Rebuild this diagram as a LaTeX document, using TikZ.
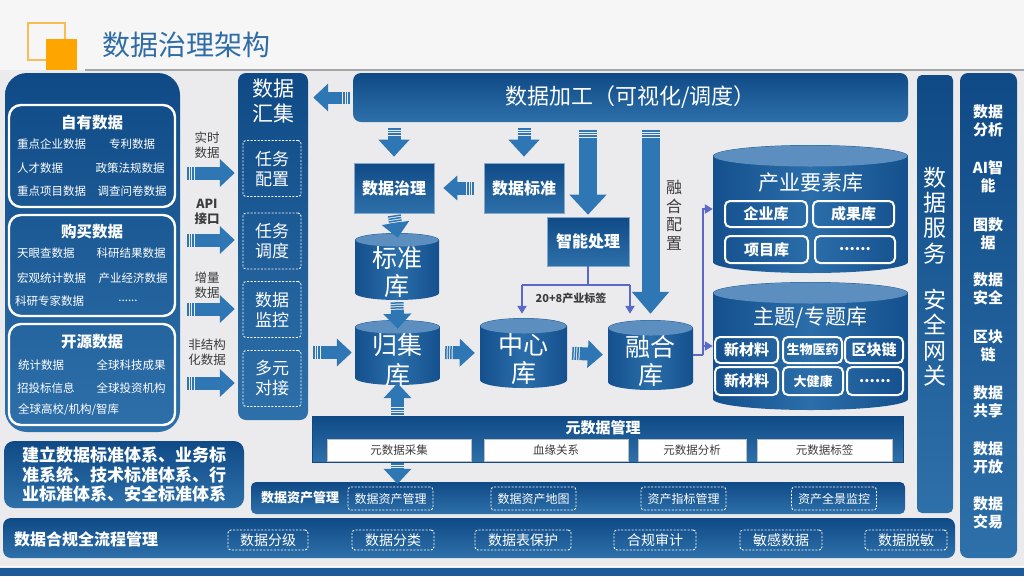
\documentclass[tikz,border=0pt]{standalone}
\usepackage{fontspec}
\setmainfont{Noto Sans CJK SC}
\usetikzlibrary{arrows.meta,calc}
\newcommand\myfs[2]{\fontsize{#1pt}{#2pt}\selectfont}
\definecolor{navy}{HTML}{0F4A86}
\definecolor{navyl}{HTML}{2E70AA}
\definecolor{arrb}{HTML}{2F77B4}
\definecolor{bgc}{HTML}{EBEBED}
\definecolor{purp}{HTML}{5A69C8}
\definecolor{txtg}{HTML}{3C3C3C}
\definecolor{ttl}{HTML}{2F6CA5}
\definecolor{orng}{HTML}{FFA500}
\definecolor{orngl}{HTML}{F8BE55}
\definecolor{cylA}{HTML}{14508D}
\definecolor{cylB}{HTML}{2B6EAA}
\definecolor{cylT}{HTML}{5C8FBF}
\definecolor{strip}{HTML}{1D5A99}
\begin{document}
\begin{tikzpicture}[x=1pt,y=-1pt,
  panel/.style={top color=navy, bottom color=navyl, draw=none, rounded corners=#1, inner sep=0pt},
  panel/.default=6,
  ibox/.style={draw=white, line width=2.4pt, rounded corners=12, inner sep=0pt},
  sect/.style={text=white, font=\myfs{15.5}{18}\bfseries, inner sep=0pt},
  itm/.style={text=white, font=\myfs{11.5}{13}, inner sep=0pt},
  dbox/.style={draw=white, dash pattern=on 2pt off 1.5pt, line width=0.9pt, rounded corners=3, text=white, inner sep=0pt, align=center},
  wbox/.style={draw=white, line width=2pt, rounded corners=5, text=white, inner sep=0pt, font=\myfs{15}{18}\bfseries},
  sqbox/.style={top color=navy, bottom color=navyl, inner sep=0pt, text=white, font=\myfs{16}{19}\bfseries, draw=navyl!60!white, line width=0.6pt},
  mbox/.style={fill=white, draw=black!25, inner sep=0pt, text=txtg, font=\myfs{11.5}{13}},
  glabel/.style={text=txtg, font=\myfs{12.5}{15}, align=center, inner sep=0pt},
  cyltxt/.style={text=white, font=\myfs{25}{28}, align=center, inner sep=0pt},
  wtxt/.style={text=white, align=center, inner sep=0pt},
  fat/.style n args={3}{draw=arrb, line width=#1, -{Triangle[width=#2,length=#3]}, dash pattern=on 1.5pt off 1pt on 1.5pt off 1pt on 1.5pt off 1pt on 600pt off 1pt},
  purpl/.style={draw=purp, line width=2.2pt},
  purpa/.style={draw=purp, line width=2.2pt, -{Triangle[width=9pt,length=8pt]}},
  dbcyl/.style={inner sep=0pt, path picture={
    \shade[left color=cylA, right color=cylA, middle color=cylB]
      let \p1=(path picture bounding box.south west), \p2=(path picture bounding box.north east) in
      (\x1,\y2-#1pt) -- (\x1,\y1+#1pt)
      arc[start angle=180, end angle=360, x radius={(\x2-\x1)/2}, y radius=#1pt]
      -- (\x2,\y2-#1pt)
      arc[start angle=0, end angle=180, x radius={(\x2-\x1)/2}, y radius=#1pt] -- cycle;
    \fill[cylT]
      let \p1=(path picture bounding box.south west), \p2=(path picture bounding box.north east) in
      ({(\x1+\x2)/2},\y2-#1pt) ellipse[x radius={(\x2-\x1)/2-0.5pt}, y radius=#1pt-0.5pt];
  }}
]
\useasboundingbox (0,0) rectangle (1024,576);
% background
\fill[bgc] (0,0) rectangle (1024,576);
\fill[white!55!bgc] (0,0) rectangle (1024,70);
\draw[black!35, line width=1.5pt] (85,70) -- (1024,70);
\fill[strip] (0,568) rectangle (1024,576);
\draw[white, line width=1pt] (0,566.5) -- (1024,566.5);

% logo and title
\node[draw=orngl, line width=1.5pt, minimum width=37, minimum height=37, inner sep=0pt] (lgo1) at (46.5,41.5) {};
\node[fill=orng, minimum width=31, minimum height=31, inner sep=0pt] (lgo2) at (61.5,54.5) {};
\node[anchor=west, text=ttl, font=\myfs{28}{30}, inner sep=0pt] (title) at (102,45) {数据治理架构};

% left panel
\node[panel=22, minimum width=175, minimum height=359] (lp) at (92.5,252.5) {};
\node[ibox, minimum width=166, minimum height=102] (own) at (92,156) {};
\node[ibox, minimum width=166, minimum height=101] (buy) at (92,265.5) {};
\node[ibox, minimum width=166, minimum height=101] (opn) at (92,374.5) {};
\node[sect] (ownt) at (92,123) {自有数据};
\node[itm, anchor=west] (o1) at (17,144) {重点企业数据};
\node[itm] (o2) at (132,144) {专利数据};
\node[itm, anchor=west] (o3) at (17,168) {人才数据};
\node[itm] (o4) at (130,168) {政策法规数据};
\node[itm, anchor=west] (o5) at (17,191) {重点项目数据};
\node[itm] (o6) at (132,191) {调查问卷数据};
\node[sect] (buyt) at (92,232) {购买数据};
\node[itm, anchor=west] (b1) at (17,253) {天眼查数据};
\node[itm] (b2) at (131,253) {科研结果数据};
\node[itm, anchor=west] (b3) at (17,278) {宏观统计数据};
\node[itm] (b4) at (133,278) {产业经济数据};
\node[itm, anchor=west] (b5) at (15,301) {科研专家数据};
\node[itm] (b6) at (128,301) {......};
\node[sect] (opnt) at (92,342) {开源数据};
\node[itm, anchor=west] (s1) at (18,365) {统计数据};
\node[itm] (s2) at (131,365) {全球科技成果};
\node[itm, anchor=west] (s3) at (17,388) {招投标信息};
\node[itm] (s4) at (131,388) {全球投资机构};
\node[itm, anchor=west] (s5) at (18,410) {全球高校/机构/智库};

% standards box
\node[panel=10, minimum width=240, minimum height=67, text=white, align=center, font=\myfs{17}{19.5}\bfseries] (std) at (124,474.5) {建立数据标准体系、业务标\\准系统、技术标准体系、行\\业标准体系、安全标准体系};

% compliance bar
\node[panel=8, minimum width=952, minimum height=40] (cmp) at (479,538) {};
\node[anchor=west, text=white, font=\myfs{16}{18}\bfseries, inner sep=0pt] (cmpt) at (14,539) {数据合规全流程管理};
\node[dbox, minimum width=80, minimum height=20, font=\myfs{14}{16}] (c1) at (268,540) {数据分级};
\node[dbox, minimum width=82, minimum height=20, font=\myfs{14}{16}] (c2) at (393,540) {数据分类};
\node[dbox, minimum width=96, minimum height=20, font=\myfs{14}{16}] (c3) at (523,540) {数据表保护};
\node[dbox, minimum width=82, minimum height=20, font=\myfs{14}{16}] (c4) at (655,540) {合规审计};
\node[dbox, minimum width=82, minimum height=20, font=\myfs{14}{16}] (c5) at (781,540) {敏感数据};
\node[dbox, minimum width=82, minimum height=20, font=\myfs{14}{16}] (c6) at (906,540) {数据脱敏};

% right columns
\node[panel=5, minimum width=36, minimum height=438] (sv) at (935,294) {};
\node[wtxt, font=\myfs{23}{25.3}] (svt) at (935,276.5) {数\\据\\服\\务\\[21pt]安\\全\\网\\关};
\node[panel=8, minimum width=57, minimum height=485] (ap) at (988.5,315.5) {};
\node[wtxt, font=\myfs{15}{18}\bfseries] (ap1) at (988,121) {数据\\分析};
\node[wtxt, font=\myfs{15}{18}\bfseries] (ap2) at (988,176.5) {AI智\\能};
\node[wtxt, font=\myfs{15}{18}\bfseries] (ap3) at (988,234) {图数\\据};
\node[wtxt, font=\myfs{15}{18}\bfseries] (ap4) at (988,289) {数据\\安全};
\node[wtxt, font=\myfs{15}{18}\bfseries] (ap5) at (988,346) {区块\\链};
\node[wtxt, font=\myfs{15}{18}\bfseries] (ap6) at (988,402) {数据\\共享};
\node[wtxt, font=\myfs{15}{18}\bfseries] (ap7) at (988,458) {数据\\开放};
\node[wtxt, font=\myfs{15}{18}\bfseries] (ap8) at (988,513) {数据\\交易};

% collection column
\node[panel=8, minimum width=70, minimum height=347] (hj) at (273,246.5) {};
\node[wtxt, font=\myfs{21}{25}] (hjt) at (273,100.5) {数据\\汇集};
\node[dbox, minimum width=58, minimum height=56, font=\myfs{17}{20}] (d1) at (272,168.5) {任务\\配置};
\node[dbox, minimum width=58, minimum height=56, font=\myfs{17}{20}] (d2) at (272,241) {任务\\调度};
\node[dbox, minimum width=58, minimum height=56, font=\myfs{17}{20}] (d3) at (272,309.5) {数据\\监控};
\node[dbox, minimum width=58, minimum height=56, font=\myfs{17}{20}] (d4) at (272,378.5) {多元\\对接};

% processing bar
\node[panel=8, minimum width=555, minimum height=49, text=white, font=\myfs{22}{24}] (jg) at (630.5,97.5) {数据加工（可视化/调度）};

% square boxes
\node[sqbox, minimum width=80, minimum height=50] (zl) at (394,188) {数据治理};
\node[sqbox, minimum width=80, minimum height=50] (bz) at (524,188) {数据标准};
\node[sqbox, minimum width=82, minimum height=49] (zn) at (588,241.5) {智能处理};

% cylinders
\node[dbcyl=7, minimum width=84, minimum height=67] (bzk) at (397,266.5) {};
\node[cyltxt] (bzkt) at (397,272) {标准\\库};
\node[dbcyl=7, minimum width=85, minimum height=65] (gjk) at (397.5,352.5) {};
\node[cyltxt, font=\myfs{25}{30}] (gjkt) at (397.5,360) {归集\\库};
\node[dbcyl=8, minimum width=87, minimum height=70] (zxk) at (523.5,353) {};
\node[cyltxt] (zxkt) at (523.5,359) {中心\\库};
\node[dbcyl=8, minimum width=85, minimum height=70] (rhk) at (650.5,355) {};
\node[cyltxt] (rhkt) at (650.5,361) {融合\\库};
\node[dbcyl=11, minimum width=195, minimum height=128] (cy1) at (810.5,209) {};
\node[wtxt, font=\myfs{21}{24}] (cy1t) at (810.5,183) {产业要素库};
\node[wbox, minimum width=82, minimum height=26] (e1) at (766,214) {企业库};
\node[wbox, minimum width=81, minimum height=26] (e2) at (853.5,214) {成果库};
\node[wbox, minimum width=83, minimum height=27] (e3) at (766.5,249.5) {项目库};
\node[wbox, minimum width=80, minimum height=27] (e4) at (855,249.5) {......};
\node[dbcyl=11, minimum width=195, minimum height=128] (cy2) at (810.5,346) {};
\node[wtxt, font=\myfs{21}{24}] (cy2t) at (810.5,318) {主题/专题库};
\node[wbox, minimum width=63, minimum height=26] (t1) at (746.5,350) {新材料};
\node[wbox, minimum width=59, minimum height=26, font=\myfs{13}{15}\bfseries] (t2) at (812.5,350) {生物医药};
\node[wbox, minimum width=58, minimum height=26] (t3) at (874,350) {区块链};
\node[wbox, minimum width=63, minimum height=28] (t4) at (746.5,381) {新材料};
\node[wbox, minimum width=60, minimum height=28, font=\myfs{13}{15}\bfseries] (t5) at (813,381) {大健康};
\node[wbox, minimum width=56, minimum height=28] (t6) at (875,381) {......};

% metadata panel
\node[top color=navy, bottom color=navyl, draw=navy, minimum width=591, minimum height=46, inner sep=0pt] (ys) at (607.5,439) {};
\node[wtxt, font=\myfs{15}{17}\bfseries] (yst) at (603,428) {元数据管理};
\node[mbox, minimum width=144, minimum height=22] (y1) at (399,450) {元数据采集};
\node[mbox, minimum width=144, minimum height=22] (y2) at (556,450) {血缘关系};
\node[mbox, minimum width=108, minimum height=22] (y3) at (692,450) {元数据分析};
\node[mbox, minimum width=135, minimum height=22] (y4) at (824.5,450) {元数据标签};

% asset panel
\node[panel=5, minimum width=654, minimum height=32] (zc) at (578,498) {};
\node[wtxt, font=\myfs{13}{15}\bfseries] (zct) at (300,498) {数据资产管理};
\node[dbox, minimum width=85, minimum height=23, font=\myfs{12}{14}] (z1) at (390.5,498.5) {数据资产管理};
\node[dbox, minimum width=85, minimum height=23, font=\myfs{12}{14}] (z2) at (533.5,498.5) {数据资产地图};
\node[dbox, minimum width=85, minimum height=23, font=\myfs{12}{14}] (z3) at (683.5,498.5) {资产指标管理};
\node[dbox, minimum width=85, minimum height=23, font=\myfs{12}{14}] (z4) at (834,498.5) {资产全景监控};

% labels
\node[glabel] (l1) at (207,145) {实时\\数据};
\node[glabel, font=\myfs{12.5}{15}\bfseries] (l2) at (207,212) {API\\接口};
\node[glabel] (l3) at (207,285) {增量\\数据};
\node[glabel] (l4) at (207,352) {非结构\\化数据};
\node[glabel, font=\myfs{16}{18.5}] (rhpz) at (674,215) {融\\合\\配\\置};
\node[glabel, font=\myfs{11}{13}\bfseries] (tag) at (571,298) {20+8产业标签};

% coordinates
\coordinate (a1) at (0,173);
\coordinate (a2) at (0,240);
\coordinate (a3) at (0,309);
\coordinate (a4) at (0,383);
\coordinate (tagL) at (522,285);
\coordinate (tagR) at (630,285);
\coordinate (pv) at (703,0);

% fat arrows
\foreach \a in {a1,a2,a3,a4}
  \draw[fat={13pt}{27pt}{15pt}, shorten <=7pt, shorten >=3pt] (lp.east |- \a) -- (hj.west |- \a);
\draw[fat={12pt}{27pt}{15pt}, shorten <=3pt, shorten >=5pt] (jg.west) -- (hj.east |- jg.west);
\draw[fat={13pt}{27pt}{15pt}, shorten <=5pt, shorten >=3pt] (hj.east |- gjk) -- (gjk.west);
\draw[fat={13pt}{27pt}{15pt}, shorten <=5pt, shorten >=5pt] (gjk.east) -- (zxk.west);
\draw[fat={13pt}{27pt}{15pt}, shorten <=5pt, shorten >=5pt] (zxk.east) -- (rhk.west);
\draw[fat={13pt}{30pt}{17pt}, shorten <=6pt, shorten >=6pt] (jg.south -| zl) -- (zl.north);
\draw[fat={13pt}{30pt}{17pt}, shorten <=6pt, shorten >=6pt] (jg.south -| bz) -- (bz.north);
\draw[fat={18pt}{36pt}{20pt}, shorten <=8pt, shorten >=2pt] (jg.south -| zn) -- (zn.north);
\draw[fat={18pt}{36pt}{22pt}, shorten <=8pt, shorten >=6pt] (jg.south -| rhk) -- (rhk.north);
\draw[fat={13pt}{24pt}{14pt}, shorten <=10pt, shorten >=9pt] (bz.west) -- (zl.east);
\draw[fat={13pt}{27pt}{15pt}, shorten <=2pt, shorten >=-5pt] (zl.south) -- (bzk.north);
\draw[fat={13pt}{27pt}{15pt}, shorten <=2pt, shorten >=-9pt] (bzk.south) -- (gjk.north);
\draw[fat={13pt}{27pt}{15pt}, shorten <=1pt, shorten >=-2pt] (ys.north -| gjk) -- (gjk.south);
\draw[fat={13pt}{27pt}{15pt}, shorten <=1pt, shorten >=-2pt] (ys.south -| gjk) -- (zc.north -| gjk);

% purple connectors
\draw[purpl] (zn.south) -- (zn.south |- tagL);
\draw[purpl] (tagL) -- (tagR);
\draw[purpa, shorten >=4pt] (tagL) -- (tagL |- zxk.north);
\draw[purpa, shorten >=6pt] (tagR) -- (tagR |- rhk.north);
\draw[purpl] (rhk.east) -- (rhk.east -| pv);
\draw[purpa] (rhk.east -| pv) |- (cy1.west);
\draw[purpa] (rhk.east -| pv) |- (cy2.west);
\end{tikzpicture}
\end{document}
